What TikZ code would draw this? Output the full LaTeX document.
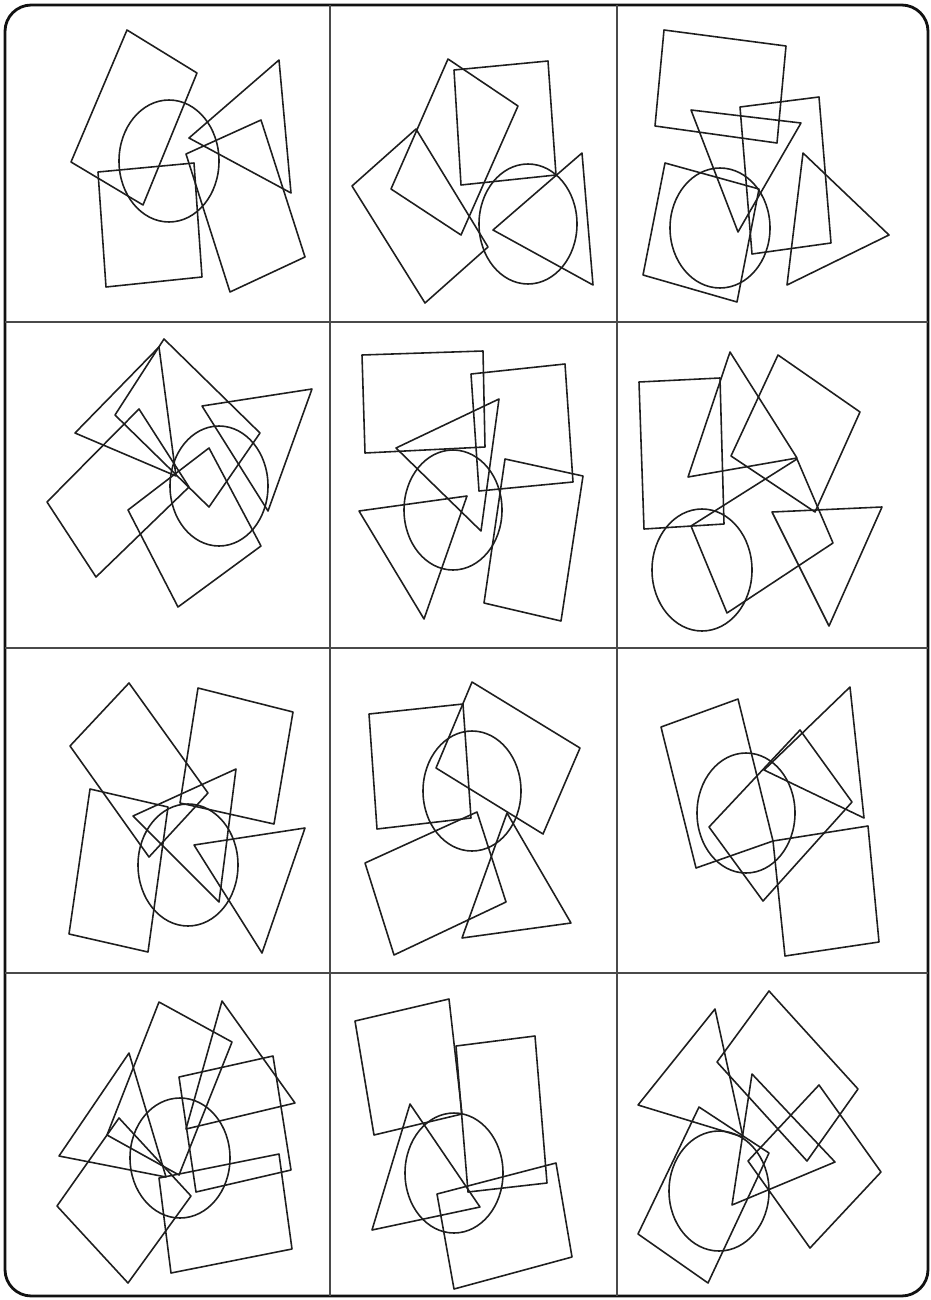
\documentclass[tikz,border=0pt]{standalone}
\usetikzlibrary{calc}

\begin{document}
\begin{tikzpicture}[x=0.01cm, y=-0.01cm]

% ---------------------------------------------------------------- colours
\definecolor{ink}{HTML}{1E1E1E}      % the figures
\definecolor{rulecolor}{HTML}{4A4A4A} % the grid
\definecolor{edgecolor}{HTML}{111111} % the outer frame

\tikzset{
    figline/.style={ink, line width=0.45pt, line join=round},
    gridline/.style={rulecolor, line width=0.45pt},
    frameline/.style={edgecolor, line width=0.8pt, rounded corners=7.5pt},
}

\useasboundingbox (0,0) rectangle (931,1300);

% ================================================================
% 4 x 3 cards, each with one ellipse and some rects / triangles.
%   units are pixels of the card sheet, y runs downwards
%   columns start at 0, 328, 615;  rows at 0, 320, 645, 970
% ================================================================

\draw[frameline] (5,5) rectangle (928,1296);
\draw[gridline] (330,5) -- (330,1296);
\draw[gridline] (617,5) -- (617,1296);
\draw[gridline] (5,322) -- (928,322);
\draw[gridline] (5,648) -- (928,648);
\draw[gridline] (5,973) -- (928,973);

% ----------------------------------------------------------------------
% ROW 1
% ----------------------------------------------------------------------
\begin{scope}[shift={(0,0)}]
    \draw[figline] (127,30) -- (197,73) -- (143,205) -- (71,162) -- cycle;
    \draw[figline] (169,161) ellipse [x radius=50, y radius=61];
    \draw[figline] (279,60) -- (189,138) -- (291,193) -- cycle;
    \draw[figline] (98,172) -- (194,163) -- (202,277) -- (106,287) -- cycle;
    \draw[figline] (186,154) -- (261,120) -- (305,257) -- (230,292) -- cycle;
\end{scope}

\begin{scope}[shift={(328,0)}]
    \draw[figline] (120,59) -- (190,106) -- (133,235) -- (63,189) -- cycle;
    \draw[figline] (126,70) -- (220,61) -- (228,175) -- (133,185) -- cycle;
    \draw[figline] (24,186) -- (88,129) -- (160,247) -- (97,303) -- cycle;
    \draw[figline] (200,224) ellipse [x radius=49, y radius=60];
    \draw[figline] (254,153) -- (165,230) -- (265,285) -- cycle;
\end{scope}

\begin{scope}[shift={(615,0)}]
    \draw[figline] (49,30) -- (171,46) -- (162,143) -- (40,126) -- cycle;
    \draw[figline] (76,110) -- (186,123) -- (123,232) -- cycle;
    \draw[figline] (125,107) -- (204,97) -- (216,243) -- (137,254) -- cycle;
    \draw[figline] (188,153) -- (274,235) -- (172,285) -- cycle;
    \draw[figline] (50,163) -- (144,189) -- (122,302) -- (28,275) -- cycle;
    \draw[figline] (105,228) ellipse [x radius=50, y radius=60];
\end{scope}

% ----------------------------------------------------------------------
% ROW 2
% ----------------------------------------------------------------------
\begin{scope}[shift={(0,320)}]
    \draw[figline] (159,27) -- (75,113) -- (176,156) -- cycle;
    \draw[figline] (202,86) -- (312,69) -- (268,191) -- cycle;
    \draw[figline] (164,19) -- (260,113) -- (209,187) -- (115,95) -- cycle;
    \draw[figline] (139,89) -- (189,167) -- (96,257) -- (47,182) -- cycle;
    \draw[figline] (209,128) -- (261,226) -- (178,287) -- (128,190) -- cycle;
    \draw[figline] (219,166) ellipse [x radius=49, y radius=60];
\end{scope}

\begin{scope}[shift={(328,320)}]
    \draw[figline] (34,35) -- (155,31) -- (157,127) -- (37,133) -- cycle;
    \draw[figline] (143,54) -- (237,44) -- (245,162) -- (151,171) -- cycle;
    \draw[figline] (68,128) -- (171,79) -- (153,211) -- cycle;
    \draw[figline] (31,191) -- (139,176) -- (96,299) -- cycle;
    \draw[figline] (177,139) -- (255,156) -- (233,301) -- (156,283) -- cycle;
    \draw[figline] (125,190) ellipse [x radius=49, y radius=60];
\end{scope}

\begin{scope}[shift={(615,320)}]
    \draw[figline] (24,62) -- (105,58) -- (109,204) -- (29,209) -- cycle;
    \draw[figline] (115,32) -- (182,138) -- (73,157) -- cycle;
    \draw[figline] (163,35) -- (245,92) -- (200,192) -- (116,136) -- cycle;
    \draw[figline] (76,206) -- (182,139) -- (218,223) -- (112,293) -- cycle;
    \draw[figline] (157,192) -- (267,187) -- (214,306) -- cycle;
    \draw[figline] (87,250) ellipse [x radius=50, y radius=61];
\end{scope}

% ----------------------------------------------------------------------
% ROW 3
% ----------------------------------------------------------------------
\begin{scope}[shift={(0,645)}]
    \draw[figline] (129,38) -- (208,148) -- (149,212) -- (70,101) -- cycle;
    \draw[figline] (198,43) -- (293,67) -- (274,179) -- (180,158) -- cycle;
    \draw[figline] (236,124) -- (133,171) -- (219,257) -- cycle;
    \draw[figline] (90,144) -- (168,162) -- (148,307) -- (69,289) -- cycle;
    \draw[figline] (194,200) -- (305,183) -- (262,308) -- cycle;
    \draw[figline] (188,220) ellipse [x radius=50, y radius=61];
\end{scope}

\begin{scope}[shift={(328,645)}]
    \draw[figline] (41,69) -- (135,59) -- (143,173) -- (49,184) -- cycle;
    \draw[figline] (144,37) -- (252,103) -- (215,189) -- (108,123) -- cycle;
    \draw[figline] (37,218) -- (149,167) -- (178,257) -- (66,310) -- cycle;
    \draw[figline] (179,168) -- (243,278) -- (134,293) -- cycle;
    \draw[figline] (144,146) ellipse [x radius=49, y radius=60];
\end{scope}

\begin{scope}[shift={(615,645)}]
    \draw[figline] (46,82) -- (123,54) -- (158,196) -- (81,223) -- cycle;
    \draw[figline] (158,196) -- (253,181) -- (264,297) -- (170,311) -- cycle;
    \draw[figline] (185,85) -- (237,157) -- (148,256) -- (94,182) -- cycle;
    \draw[figline] (235,42) -- (249,173) -- (149,125) -- cycle;
    \draw[figline] (131,168) ellipse [x radius=49, y radius=60];
\end{scope}

% ----------------------------------------------------------------------
% ROW 4
% ----------------------------------------------------------------------
\begin{scope}[shift={(0,970)}]
    \draw[figline] (159,32) -- (232,72) -- (179,205) -- (107,165) -- cycle;
    \draw[figline] (222,31) -- (295,133) -- (186,159) -- cycle;
    \draw[figline] (179,107) -- (273,86) -- (291,200) -- (196,222) -- cycle;
    \draw[figline] (159,208) -- (279,184) -- (292,279) -- (171,303) -- cycle;
    \draw[figline] (129,83) -- (59,186) -- (166,207) -- cycle;
    \draw[figline] (119,148) -- (191,226) -- (128,313) -- (57,236) -- cycle;
    \draw[figline] (180,188) ellipse [x radius=50, y radius=60];
\end{scope}

\begin{scope}[shift={(328,970)}]
    \draw[figline] (27,51) -- (121,29) -- (134,144) -- (46,165) -- cycle;
    \draw[figline] (128,76) -- (207,66) -- (219,213) -- (140,222) -- cycle;
    \draw[figline] (82,134) -- (152,237) -- (44,260) -- cycle;
    \draw[figline] (109,224) -- (228,193) -- (244,287) -- (126,319) -- cycle;
    \draw[figline] (126,203) ellipse [x radius=49, y radius=60];
\end{scope}

\begin{scope}[shift={(615,970)}]
    \draw[figline] (100,39) -- (23,135) -- (128,167) -- cycle;
    \draw[figline] (154,21) -- (243,119) -- (192,191) -- (102,92) -- cycle;
    \draw[figline] (137,104) -- (220,192) -- (117,235) -- cycle;
    \draw[figline] (204,115) -- (266,202) -- (195,278) -- (133,191) -- cycle;
    \draw[figline] (84,137) -- (154,183) -- (93,313) -- (23,264) -- cycle;
    \draw[figline] (104,221) ellipse [x radius=50, y radius=60];
\end{scope}

\end{tikzpicture}
\end{document}
